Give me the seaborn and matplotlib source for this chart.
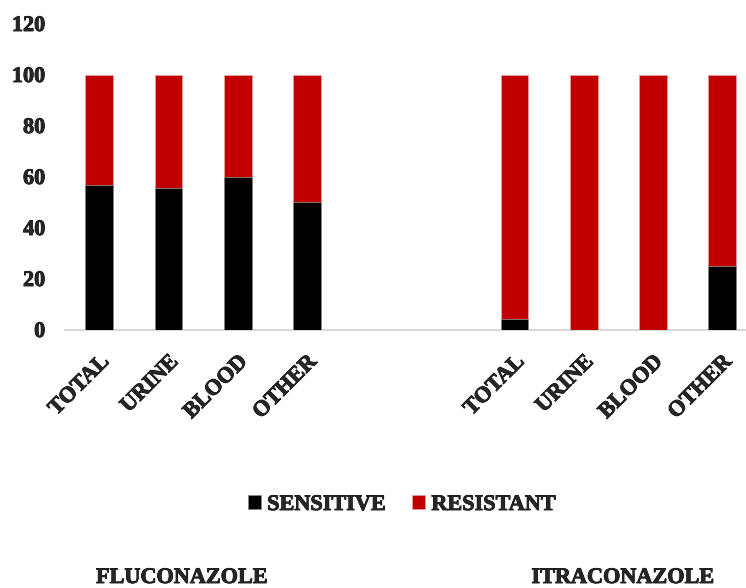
import numpy as np
import pandas as pd
import matplotlib
matplotlib.use("Agg")
import matplotlib.pyplot as plt
import matplotlib.patheffects as pe
import seaborn as sns

# ---- data ----
drugs = ["FLUCONAZOLE", "ITRACONAZOLE"]
sites = ["TOTAL", "URINE", "BLOOD", "OTHER"]
fluconazole_sensitive = [56.5, 55.5, 59.8, 50.0]
itraconazole_sensitive = [4.2, 0.0, 0.0, 25.0]
series = ["SENSITIVE", "RESISTANT"]
yticks = [0, 20, 40, 60, 80, 100, 120]

sns.set_theme(style="white")
plt.rcParams["font.family"] = ["Liberation Serif", "DejaVu Serif"]
plt.rcParams["font.weight"] = "bold"

BLACK = "#000000"
RED = "#C00000"
FS = 16
HEAVY = [pe.withStroke(linewidth=0.6, foreground="black")]

# build table: categories with two empty gap slots between drug groups
keys, labels, sens = [], [], []
for d, vals in zip(drugs, [fluconazole_sensitive, itraconazole_sensitive]):
    for s, v in zip(sites, vals):
        keys.append(f"{d}_{s}")
        labels.append(s)
        sens.append(v)
    if d == drugs[0]:
        keys += ["gap1", "gap2"]
        labels += ["", ""]
        sens += [np.nan, np.nan]

df = pd.DataFrame({"key": keys, "label": labels, "sensitive": sens})
df["total"] = np.where(df["sensitive"].notna(), 100.0, np.nan)

fig = plt.figure(figsize=(7.46, 5.88), dpi=100)
ax = fig.add_axes([64.7 / 746, 1 - 329.5 / 588, 1 - 64.7 / 746, (329.5 - 23.5) / 588])

sns.barplot(data=df, x="key", y="total", order=keys, color=RED, width=0.40,
            ax=ax, saturation=1, linewidth=0.6, edgecolor="#e8a0a0", label=series[1])
sns.barplot(data=df, x="key", y="sensitive", order=keys, color=BLACK, width=0.40,
            ax=ax, saturation=1, linewidth=0.6, edgecolor="#888888", label=series[0])

ax.set_xlim(-0.5, 9.345)
ax.set_ylim(0, 120)
ax.set_yticks(yticks)
ax.set_yticklabels([str(t) for t in yticks], fontsize=FS, fontweight="bold")
ax.set_xticks(range(len(keys)))
ax.set_xticklabels(labels, rotation=45, ha="right", rotation_mode="anchor",
                   fontsize=FS, fontweight="bold")
for t in ax.get_xticklabels() + ax.get_yticklabels():
    t.set_path_effects(HEAVY)
ax.tick_params(axis="y", length=0, pad=14)
ax.tick_params(axis="x", length=0, pad=16)
ax.set_xlabel("")
ax.set_ylabel("")
for sp in ax.spines.values():
    sp.set_visible(False)
ax.axhline(0, color="#d9d9d9", linewidth=1.5, zorder=0, clip_on=False)

handles, leg_labels = ax.get_legend_handles_labels()
order = [leg_labels.index(s) for s in series]
leg = fig.legend([handles[i] for i in order], [leg_labels[i] for i in order],
                 loc="center", bbox_to_anchor=(402 / 746, 1 - 505 / 588), ncol=2,
                 frameon=False, handlelength=0.55, handleheight=0.55,
                 handletextpad=0.3, columnspacing=1.2,
                 prop={"family": "Liberation Serif", "weight": "bold", "size": FS})
for t in leg.get_texts():
    t.set_path_effects(HEAVY)
if ax.get_legend() is not None:
    ax.get_legend().remove()

for xc, name in zip([182, 623], drugs):
    fig.text(xc / 746, 1 - 568 / 588, name, ha="center", va="top",
             fontsize=FS, fontweight="bold", path_effects=HEAVY)

fig.savefig("out.png", dpi=100)
